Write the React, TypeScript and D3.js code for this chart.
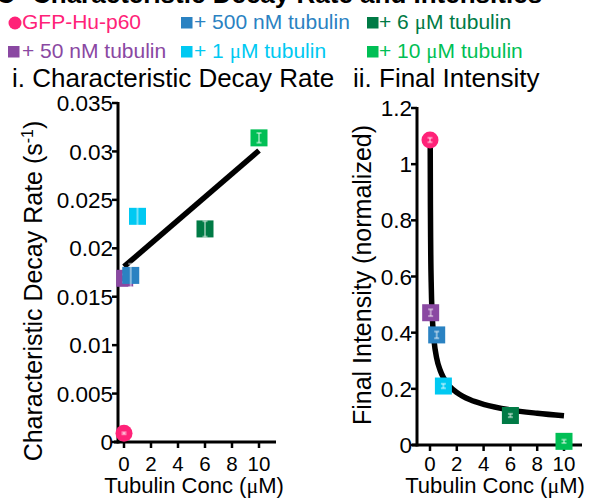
import React from "react";
import * as d3 from "d3";

const conditions = ["GFP-Hu-p60", "+ 50 nM tubulin", "+ 500 nM tubulin", "+ 1 μM tubulin", "+ 6 μM tubulin", "+ 10 μM tubulin"];
const colors = ["#ff2278", "#8a48a2", "#2a82c2", "#00c9f2", "#007a45", "#00bf55"];
const tubulinConc = [0, 0.05, 0.5, 1, 6, 10];
const decayRate = [0.0009, 0.0169, 0.0172, 0.0233, 0.022, 0.0314];
const decayErr = [0.0001, 0.0004, 0.0012, 0.0014, 0.0008, 0.0005];
const finalIntensity = [1.086, 0.471, 0.392, 0.21, 0.105, 0.013];
const intensityErr = [0.008, 0.012, 0.012, 0.008, 0.006, 0.006];

const decayFitX = [0, 10];
const decayFitY = [0.0181, 0.0301];
const intensityFitX = [0.017, 0.03, 0.05, 0.1, 0.2, 0.3, 0.5, 0.75, 1, 1.5, 2, 3, 4, 6, 8, 10];
const intensityFitY = [1.06, 0.86, 0.714, 0.555, 0.431, 0.372, 0.309, 0.267, 0.24, 0.207, 0.187, 0.161, 0.145, 0.125, 0.113, 0.104];

const decayTicks = [0, 0.005, 0.01, 0.015, 0.02, 0.025, 0.03, 0.035];
const intensityTicks = [0, 0.2, 0.4, 0.6, 0.8, 1, 1.2];
const concTicks = [0, 2, 4, 6, 8, 10];

const FONT = "'Liberation Sans', Arial, Helvetica, sans-serif";
const MU_FONT = "'Liberation Serif', 'DejaVu Serif', serif";

function withMu(label: string) {
  const parts = label.split("μ");
  if (parts.length === 1) return label;
  return (
    <>
      {parts[0]}
      <tspan fontFamily={MU_FONT}>μ</tspan>
      {parts[1]}
    </>
  );
}

function Marker({ i, cx, cy, size }: { i: number; cx: number; cy: number; size: number }) {
  if (i === 0) return <circle cx={cx} cy={cy} r={size / 2} fill={colors[i]} />;
  return <rect x={cx - size / 2} y={cy - size / 2} width={size} height={size} fill={colors[i]} />;
}

function ErrBar({ cx, y1, y2 }: { cx: number; y1: number; y2: number }) {
  const c = "rgba(255,255,255,0.45)";
  return (
    <g stroke={c} strokeWidth={2}>
      <line x1={cx} x2={cx} y1={y1} y2={y2} />
      <line x1={cx - 2.5} x2={cx + 2.5} y1={y1} y2={y1} />
      <line x1={cx - 2.5} x2={cx + 2.5} y1={y2} y2={y2} />
    </g>
  );
}

function Panel(props: {
  x: d3.ScaleLinear<number, number>;
  y: d3.ScaleLinear<number, number>;
  xAxisRange: [number, number];
  yAxisX: number;
  yTicks: number[];
  yFmt: (v: number) => string;
  values: number[];
  errs: number[];
  fitX: number[];
  fitY: number[];
  curve: d3.CurveFactory;
  title: string;
  titleX: number;
  xTitleX: number;
  yTitle: React.ReactNode;
  yTitleX: number;
  yTitleY: number;
}) {
  const { x, y, xAxisRange, yAxisX, yTicks, yFmt, values, errs, fitX, fitY, curve } = props;
  const y0 = y(0);
  const yTop = y(yTicks[yTicks.length - 1]);
  const line = d3
    .line<number>()
    .x((_, i) => x(fitX[i]))
    .y((d) => y(d))
    .curve(curve);
  return (
    <g fontFamily={FONT} fill="#000">
      <text x={props.titleX} y={87} fontSize={26}>{props.title}</text>
      <g stroke="#000">
        <line x1={yAxisX} x2={yAxisX} y1={yTop - 1} y2={y0 + 1.5} strokeWidth={3} />
        <line x1={xAxisRange[0]} x2={xAxisRange[1]} y1={y0} y2={y0} strokeWidth={3} />
        {yTicks.map((t) => (
          <line key={t} x1={yAxisX - 6} x2={yAxisX} y1={y(t)} y2={y(t)} strokeWidth={2.5} />
        ))}
        {concTicks.map((t) => (
          <line key={t} x1={x(t)} x2={x(t)} y1={y0} y2={y0 + 6} strokeWidth={2.5} />
        ))}
      </g>
      {yTicks.map((t) => (
        <text key={t} x={yAxisX - 5} y={y(t)} dy="0.36em" textAnchor="end" fontSize={22.5}>
          {yFmt(t)}
        </text>
      ))}
      {concTicks.map((t) => (
        <text key={t} x={x(t)} y={471} textAnchor="middle" fontSize={20.5}>
          {t}
        </text>
      ))}
      <text x={props.xTitleX} y={493} textAnchor="middle" fontSize={22}>
        Tubulin Conc (<tspan fontFamily={MU_FONT}>μ</tspan>M)
      </text>
      <text
        transform={`translate(${props.yTitleX},${props.yTitleY}) rotate(-90)`}
        textAnchor="middle"
        fontSize={25}
      >
        {props.yTitle}
      </text>
      <path d={line(fitY) || ""} fill="none" stroke="#000" strokeWidth={5.5} />
      {values.map((v, i) => (
        <g key={i}>
          <Marker i={i} cx={x(tubulinConc[i])} cy={y(v)} size={17} />
          <ErrBar cx={x(tubulinConc[i])} y1={y(v + errs[i])} y2={y(v - errs[i])} />
        </g>
      ))}
    </g>
  );
}

export default function App() {
  const W = 593;
  const H = 498;

  const xL = d3.scaleLinear().domain([0, 10]).range([124, 259]);
  const yL = d3.scaleLinear().domain([0, 0.035]).range([442, 103]);
  const xR = d3.scaleLinear().domain([0, 10]).range([430, 564]);
  const yR = d3.scaleLinear().domain([0, 1.2]).range([445, 108]);

  const legendCols = [
    { m: 8, t: 22 },
    { m: 181, t: 194 },
    { m: 367, t: 379 },
  ];
  const legendRows = [22, 51];

  return (
    <svg width={W} height={H} style={{ position: "absolute", left: 0, top: 0, background: "#fff" }}>
      <rect width={W} height={H} fill="#fff" />
      <text x={32} y={3} fontFamily={FONT} fontWeight="bold" fontSize={26}>
        Characteristic Decay Rate and Intensities
      </text>
      <text x={-4} y={3} fontFamily={FONT} fontWeight="bold" fontSize={26}>
        C
      </text>
      <g fontFamily={FONT} fontSize={21}>
        {conditions.map((c, i) => {
          const col = legendCols[Math.floor(i / 2)];
          const cy = legendRows[i % 2];
          return (
            <g key={c}>
              {i === 0 ? (
                <circle cx={col.m + 7} cy={cy + 1} r={6.5} fill={colors[i]} />
              ) : (
                <rect x={col.m} y={cy - 5} width={11.5} height={11.5} fill={colors[i]} />
              )}
              <text x={col.t} y={cy + 6.5} fill={colors[i]}>
                {withMu(c)}
              </text>
            </g>
          );
        })}
      </g>
      <Panel
        x={xL}
        y={yL}
        xAxisRange={[114, 276]}
        yAxisX={118}
        yTicks={decayTicks}
        yFmt={(v) => (v === 0 ? "0" : String(+v.toFixed(3)))}
        values={decayRate}
        errs={decayErr}
        fitX={decayFitX}
        fitY={decayFitY}
        curve={d3.curveLinear}
        title="i. Characteristic Decay Rate"
        titleX={12}
        xTitleX={194}
        yTitle={
          <>
            Characteristic Decay Rate (s<tspan dy={-9} fontSize={16}>-1</tspan>
            <tspan dy={9}>)</tspan>
          </>
        }
        yTitleX={42}
        yTitleY={291}
      />
      <Panel
        x={xR}
        y={yR}
        xAxisRange={[412, 582]}
        yAxisX={417}
        yTicks={intensityTicks}
        yFmt={(v) => String(+v.toFixed(1))}
        values={finalIntensity}
        errs={intensityErr}
        fitX={intensityFitX}
        fitY={intensityFitY}
        curve={d3.curveMonotoneX}
        title="ii. Final Intensity"
        titleX={353}
        xTitleX={495}
        yTitle="Final Intensity (normalized)"
        yTitleX={371}
        yTitleY={275}
      />
    </svg>
  );
}
